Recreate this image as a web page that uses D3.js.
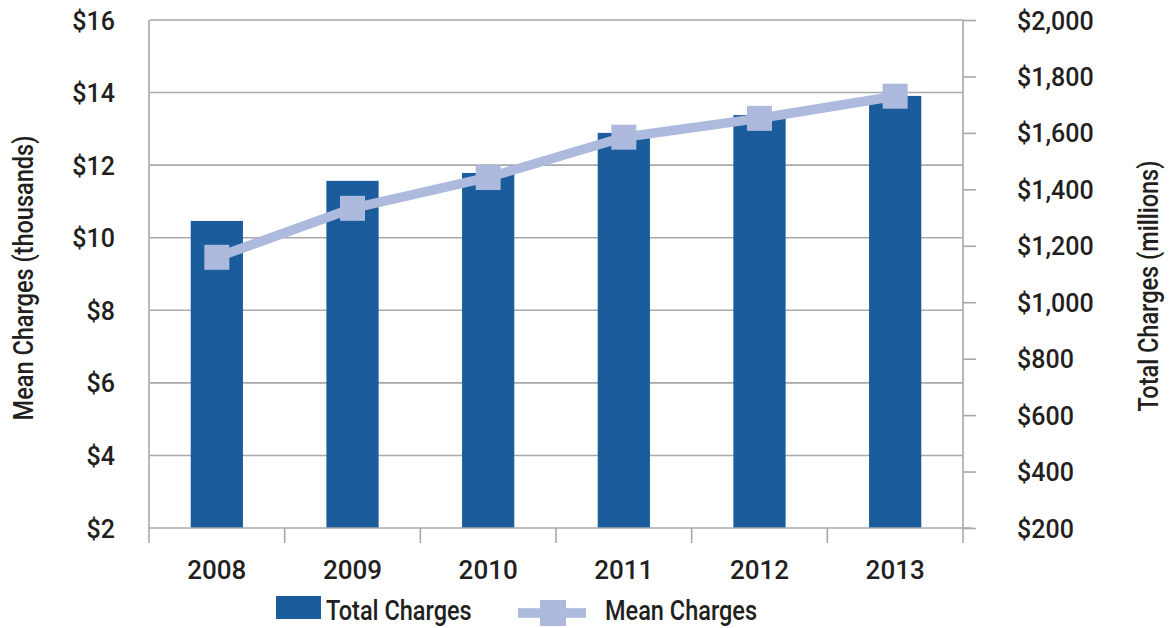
<!DOCTYPE html>
<html>
<head>
<meta charset="utf-8">
<script src="https://cdn.jsdelivr.net/npm/d3@7"></script>
<style>
  html, body { margin: 0; padding: 0; background: #fff; }
  svg { display: block; }
  .num { font-family: Roboto, "Liberation Sans", Arial, sans-serif; font-weight: 500; fill: #231f20; }
  .lbl { font-family: Roboto, "Liberation Sans", Arial, sans-serif; font-weight: 500; fill: #231f20; }
</style>
</head>
<body>
<svg id="chart" width="1170" height="628"></svg>
<script>
// Hospital charges by year
const years = ["2008", "2009", "2010", "2011", "2012", "2013"];
// Total charges, millions of dollars (bars, right axis)
const totalCharges = [1288, 1430, 1458, 1600, 1663, 1731];
// Mean charges, thousands of dollars (line, left axis)
const meanCharges = [9.46, 10.81, 11.66, 12.77, 13.29, 13.90];
// Axis tick values
const leftTicks = [2, 4, 6, 8, 10, 12, 14, 16];
const rightTicks = [200, 400, 600, 800, 1000, 1200, 1400, 1600, 1800, 2000];

const barColor = "#1a5c9c";
const lineColor = "#adb9dd";
const gridColor = "#a9a9a9";

const svg = d3.select("#chart");
const plot = { left: 149, right: 963, top: 20, bottom: 528 };

const x = d3.scaleBand().domain(years).range([plot.left, plot.right]).padding(0);
const yL = d3.scaleLinear().domain([2, 16]).range([plot.bottom, plot.top]);
const yR = d3.scaleLinear().domain([200, 2000]).range([plot.bottom, plot.top]);
const money = v => "$" + d3.format(",")(v);

// Narrow the set type horizontally (condensed face look)
function condense(sel, factor) {
  sel.each(function () {
    const len = this.getComputedTextLength();
    d3.select(this).attr("textLength", len * factor).attr("lengthAdjust", "spacingAndGlyphs");
  });
}

// Horizontal gridlines at the left-axis ticks
svg.append("g")
  .selectAll("line")
  .data(leftTicks.filter(v => v > 2))
  .join("line")
  .attr("x1", plot.left + 1).attr("x2", plot.right)
  .attr("y1", d => yL(d)).attr("y2", d => yL(d))
  .attr("stroke", gridColor).attr("stroke-width", 1.6);

// Bars: total charges
const barW = x.bandwidth() * 0.385;
svg.append("g")
  .selectAll("rect")
  .data(years)
  .join("rect")
  .attr("x", d => x(d) + x.bandwidth() / 2 - barW / 2)
  .attr("width", barW)
  .attr("y", (d, i) => yR(totalCharges[i]))
  .attr("height", (d, i) => plot.bottom - yR(totalCharges[i]))
  .attr("fill", barColor);

// Left axis
const gL = svg.append("g").attr("transform", `translate(${plot.left},0)`)
  .call(d3.axisLeft(yL).tickValues(leftTicks).tickSize(0).tickPadding(34).tickFormat(money));
gL.select(".domain").remove();
gL.selectAll("text").attr("class", "num").style("font-size", "25px").attr("dy", "0.36em");
svg.append("line")
  .attr("x1", plot.left).attr("x2", plot.left)
  .attr("y1", plot.top).attr("y2", plot.bottom + 15)
  .attr("stroke", gridColor).attr("stroke-width", 1.6);

// Right axis
const gR = svg.append("g").attr("transform", `translate(${plot.right},0)`)
  .call(d3.axisRight(yR).tickValues(rightTicks).tickSize(13).tickPadding(41).tickFormat(money));
gR.select(".domain").remove();
gR.selectAll(".tick line").attr("stroke", gridColor).attr("stroke-width", 1.6);
gR.selectAll("text").attr("class", "num").style("font-size", "25px").attr("dy", "0.36em");
svg.append("line")
  .attr("x1", plot.right).attr("x2", plot.right)
  .attr("y1", plot.top).attr("y2", plot.bottom + 15)
  .attr("stroke", gridColor).attr("stroke-width", 1.6);

// Bottom axis: baseline, category boundary ticks, year labels
svg.append("line")
  .attr("x1", plot.left).attr("x2", plot.right + 9)
  .attr("y1", plot.bottom).attr("y2", plot.bottom)
  .attr("stroke", gridColor).attr("stroke-width", 1.6);
svg.append("g")
  .selectAll("line")
  .data(years.slice(1))
  .join("line")
  .attr("x1", d => x(d)).attr("x2", d => x(d))
  .attr("y1", plot.bottom).attr("y2", plot.bottom + 15)
  .attr("stroke", gridColor).attr("stroke-width", 1.6);
const gX = svg.append("g").attr("transform", `translate(0,${plot.bottom})`)
  .call(d3.axisBottom(x).tickSize(0).tickPadding(33));
gX.select(".domain").remove();
gX.selectAll("text").attr("class", "num").style("font-size", "26px").attr("dy", "0.71em");

// Line: mean charges
const line = d3.line()
  .x((d, i) => x(years[i]) + x.bandwidth() / 2)
  .y(d => yL(d));
svg.append("path")
  .datum(meanCharges)
  .attr("d", line)
  .attr("fill", "none")
  .attr("stroke", lineColor)
  .attr("stroke-width", 9.5);
const mk = 25;
svg.append("g")
  .selectAll("rect")
  .data(meanCharges)
  .join("rect")
  .attr("x", (d, i) => x(years[i]) + x.bandwidth() / 2 - mk / 2)
  .attr("y", d => yL(d) - mk / 2)
  .attr("width", mk).attr("height", mk)
  .attr("fill", lineColor);

// Axis titles
svg.append("text").attr("class", "lbl title")
  .attr("transform", "translate(33,278) rotate(-90)")
  .attr("text-anchor", "middle")
  .style("font-size", "28px")
  .text("Mean Charges (thousands)");
svg.append("text").attr("class", "lbl title")
  .attr("transform", "translate(1158,286) rotate(-90)")
  .attr("text-anchor", "middle")
  .style("font-size", "28px")
  .text("Total Charges (millions)");

// Legend
const leg = svg.append("g");
leg.append("rect").attr("x", 276).attr("y", 596).attr("width", 45).attr("height", 23).attr("fill", barColor);
leg.append("text").attr("class", "lbl").attr("x", 326).attr("y", 620)
  .style("font-size", "28px").text("Total Charges");
leg.append("line").attr("x1", 518).attr("x2", 586).attr("y1", 613).attr("y2", 613)
  .attr("stroke", lineColor).attr("stroke-width", 9.5);
leg.append("rect").attr("x", 540).attr("y", 600).attr("width", 26).attr("height", 26).attr("fill", lineColor);
leg.append("text").attr("class", "lbl").attr("x", 605).attr("y", 620)
  .style("font-size", "28px").text("Mean Charges");

condense(svg.selectAll("text.lbl"), 0.84);
</script>
</body>
</html>
